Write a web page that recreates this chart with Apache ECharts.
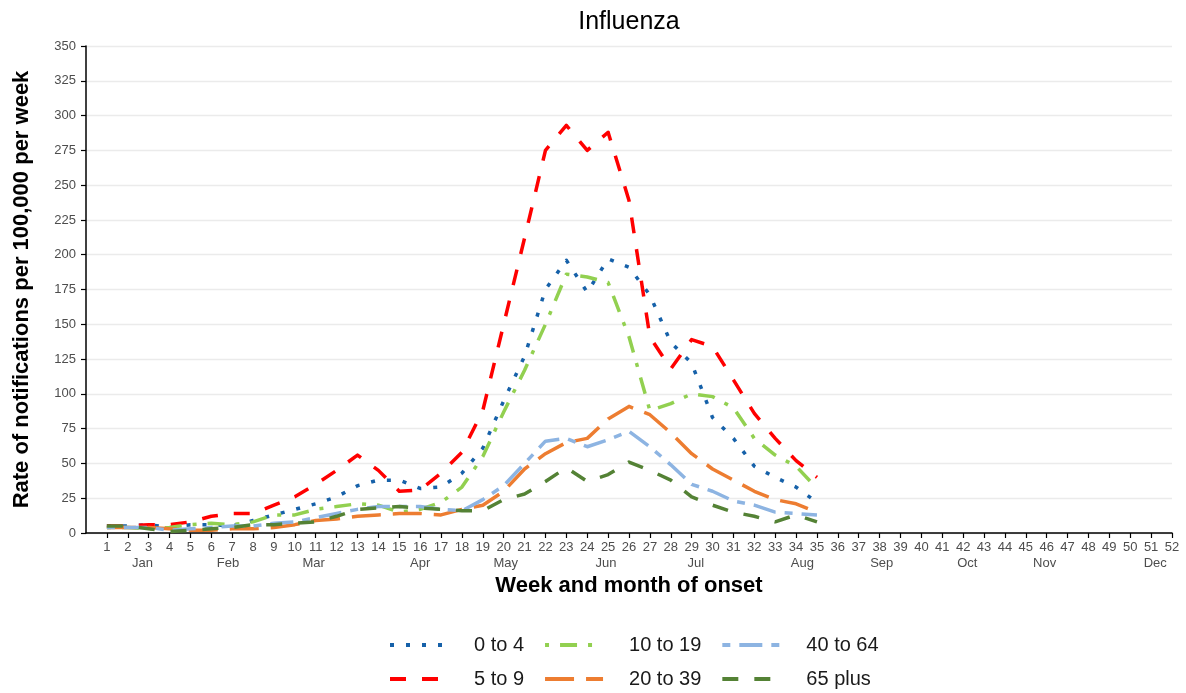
<!DOCTYPE html>
<html>
<head>
<meta charset="utf-8">
<script src="https://cdn.jsdelivr.net/npm/echarts@6/dist/echarts.min.js"></script>
<style>
  html, body { margin: 0; padding: 0; background: #fff; }
  #chart { width: 1186px; height: 693px; }
</style>
</head>
<body>
<div id="chart"></div>
<script>
// ========== data ==========
const weeks = [1, 2, 3, 4, 5, 6, 7, 8, 9, 10, 11, 12, 13, 14, 15, 16, 17, 18, 19, 20,
  21, 22, 23, 24, 25, 26, 27, 28, 29, 30, 31, 32, 33, 34, 35];

const age0to4   = [5, 5, 6, 4, 6, 6, 5, 9, 13, 17, 21, 26, 34, 38, 38, 32, 33, 43, 61, 95,
  127, 175, 196, 173, 197, 191, 171, 137, 122, 83, 68, 48, 40, 33, 22];
const age5to9   = [5, 5, 6, 6, 8, 12, 14, 14, 20, 26, 35, 45, 56, 45, 30, 31, 43, 58, 88, 150,
  212, 275, 293, 275, 288, 239, 141, 118, 139, 134, 110, 86, 68, 52, 40];
const age10to19 = [4, 4, 3, 4, 6, 7, 6, 8, 13, 13, 17, 19, 21, 20, 15, 17, 22, 33, 55, 87,
  117, 150, 186, 184, 180, 141, 88, 93, 100, 98, 90, 68, 56, 48, 32];
const age20to39 = [4, 4, 4, 3, 2, 2, 3, 3, 4, 6, 9, 10, 12, 13, 14, 14, 13, 17, 20, 30,
  46, 57, 65, 68, 82, 91, 85, 72, 57, 46, 38, 30, 24, 21, 15];
const age40to64 = [4, 4, 4, 2, 3, 4, 5, 5, 7, 8, 11, 14, 17, 19, 19, 19, 17, 16, 24, 34,
  50, 66, 68, 62, 67, 73, 62, 49, 35, 30, 23, 20, 15, 14, 13];
const age65plus = [5, 5, 3, 1, 2, 3, 4, 6, 6, 7, 8, 12, 17, 18, 19, 18, 17, 16, 16, 24,
  28, 37, 47, 37, 42, 51, 45, 38, 26, 20, 15, 12, 8, 13, 8];

const weekTicks = [1, 2, 3, 4, 5, 6, 7, 8, 9, 10, 11, 12, 13, 14, 15, 16, 17, 18, 19, 20,
  21, 22, 23, 24, 25, 26, 27, 28, 29, 30, 31, 32, 33, 34, 35, 36, 37, 38, 39, 40,
  41, 42, 43, 44, 45, 46, 47, 48, 49, 50, 51, 52];
const monthNames = ['Jan', 'Feb', 'Mar', 'Apr', 'May', 'Jun', 'Jul', 'Aug', 'Sep', 'Oct', 'Nov', 'Dec'];
const monthPos   = [2.7, 6.8, 10.9, 16, 20.1, 24.9, 29.2, 34.3, 38.1, 42.2, 45.9, 51.2];

const yTicks = { min: 0, max: 350, step: 25 };

// ========== series styles ==========
const LW = 3.5;
const groups = [
  { name: '0 to 4',   data: age0to4,   color: '#1661a9', dash: [4, 12] },
  { name: '5 to 9',   data: age5to9,   color: '#ff0000', dash: [16, 16] },
  { name: '10 to 19', data: age10to19, color: '#92d050', dash: [4, 11, 17, 11] },
  { name: '20 to 39', data: age20to39, color: '#ed7d31', dash: [29, 12] },
  { name: '40 to 64', data: age40to64, color: '#8db4e2', dash: [8, 9, 23, 9] },
  { name: '65 plus',  data: age65plus, color: '#548235', dash: [16, 16] }
];

const FONT = '"Liberation Sans", Arial, sans-serif';
const chart = echarts.init(document.getElementById('chart'), null, { renderer: 'canvas' });

// legend: line only, no marker dot
const legendCommon = {
  left: 388,
  padding: 0,
  itemWidth: 58,
  itemHeight: 14,
  itemGap: 19,
  itemStyle: { opacity: 0, borderWidth: 0 },
  lineStyle: { width: 4 },
  textStyle: { fontFamily: FONT, fontSize: 20, color: '#1a1a1a', padding: [0, 0, 0, 21], lineHeight: 20 }
};

chart.setOption({
  animation: false,
  backgroundColor: '#fff',
  title: {
    text: 'Influenza',
    left: 629,
    top: 10,
    padding: 0,
    textAlign: 'center',
    textStyle: { fontFamily: FONT, fontSize: 25, fontWeight: 'normal', color: '#000' }
  },
  legend: [
    Object.assign({ top: 635, data: ['0 to 4', '10 to 19', '40 to 64'] }, legendCommon),
    Object.assign({ top: 669, data: ['5 to 9', '20 to 39', '65 plus'] }, legendCommon)
  ],
  grid: { left: 86, right: 14, top: 46, bottom: 160, containLabel: false },
  xAxis: [{
    type: 'value',
    min: 0,
    max: 52,
    position: 'bottom',
    name: 'Week and month of onset',
    nameLocation: 'middle',
    nameGap: 42,
    nameTextStyle: { fontFamily: FONT, fontSize: 22, fontWeight: 'bold', color: '#000' },
    axisLine: { show: true, lineStyle: { color: '#000', width: 1.5 } },
    axisTick: { show: true, customValues: weekTicks, length: 5, lineStyle: { color: '#000', width: 1.2 } },
    axisLabel: { customValues: weekTicks, margin: 8, fontFamily: FONT, fontSize: 13, color: '#4d4d4d' },
    splitLine: { show: false }
  }, {
    type: 'value',
    min: 0,
    max: 52,
    position: 'bottom',
    axisLine: { show: false },
    axisTick: { show: false },
    axisLabel: {
      customValues: monthPos,
      margin: 24,
      fontFamily: FONT, fontSize: 13, color: '#4d4d4d',
      formatter: v => monthNames[monthPos.indexOf(v)] || ''
    },
    splitLine: { show: false }
  }],
  yAxis: {
    type: 'value',
    min: yTicks.min,
    max: yTicks.max,
    interval: yTicks.step,
    name: 'Rate of notifications per 100,000 per week',
    nameLocation: 'middle',
    nameGap: 53,
    nameTextStyle: { fontFamily: FONT, fontSize: 22, fontWeight: 'bold', color: '#000' },
    axisLine: { show: true, lineStyle: { color: '#000', width: 1.5 } },
    axisTick: { show: true, length: 5, lineStyle: { color: '#000', width: 1.2 } },
    axisLabel: { margin: 10, fontFamily: FONT, fontSize: 13, color: '#4d4d4d' },
    splitLine: { show: true, lineStyle: { color: '#ebebeb', width: 1.3 } }
  },
  series: groups.map(g => ({
    name: g.name,
    type: 'line',
    xAxisIndex: 0,
    symbol: 'none',
    showSymbol: false,
    data: weeks.map((w, i) => [w, g.data[i]]),
    itemStyle: { color: g.color },
    lineStyle: { color: g.color, width: LW, type: g.dash, cap: 'butt', join: 'round' }
  }))
});
</script>
</body>
</html>
